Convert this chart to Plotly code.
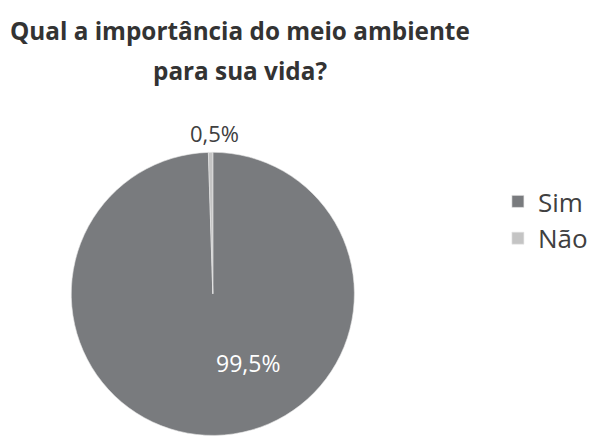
import plotly.graph_objects as go

# Survey answers and their shares (%)
labels = ["Sim", "Não"]
values = [99.5, 0.5]
colors = ["#797b7e", "#c4c4c4"]

title_lines = ["Qual a importância do meio ambiente", "para sua vida?"]

W, H = 593, 436


def pct(v):
    return f"{v:.1f}".replace(".", ",") + "%"


def py(pixel_y):
    return 1 - pixel_y / H


fig = go.Figure(
    go.Pie(
        labels=labels,
        values=values,
        sort=False,
        direction="clockwise",
        rotation=0,
        marker=dict(colors=colors, line=dict(color="#e6e6e6", width=0.6)),
        textinfo="none",
        hoverinfo="label+percent",
        domain=dict(x=[0.1214, 0.6037], y=[0.0, 0.652]),
        showlegend=True,
    )
)

# Two-line chart title
for text, yc in zip(title_lines, [30, 71]):
    fig.add_annotation(
        x=242 / W, y=py(yc), xref="paper", yref="paper",
        xanchor="center", yanchor="middle",
        text=f"<b>{text}</b>", showarrow=False,
        font=dict(family="Open Sans", size=24.3, color="#333333"),
    )

# Percentage labels
fig.add_annotation(
    x=251 / W, y=py(363), xref="paper", yref="paper",
    xanchor="center", yanchor="middle",
    text=pct(values[0]), showarrow=False,
    font=dict(family="Open Sans", size=23, color="#ffffff"),
)
fig.add_annotation(
    x=217 / W, y=py(133), xref="paper", yref="paper",
    xanchor="center", yanchor="middle",
    text=pct(values[1]), showarrow=False,
    font=dict(family="Open Sans", size=22, color="#404040"),
)

fig.update_layout(
    width=W,
    height=H,
    margin=dict(l=0, r=0, t=0, b=0),
    paper_bgcolor="#ffffff",
    plot_bgcolor="#ffffff",
    legend=dict(
        x=503 / W, xanchor="left",
        y=py(178), yanchor="top",
        font=dict(family="Open Sans", size=26, color="#404040"),
        itemwidth=30,
        bgcolor="rgba(0,0,0,0)",
    ),
)

fig.write_html("out.html")
